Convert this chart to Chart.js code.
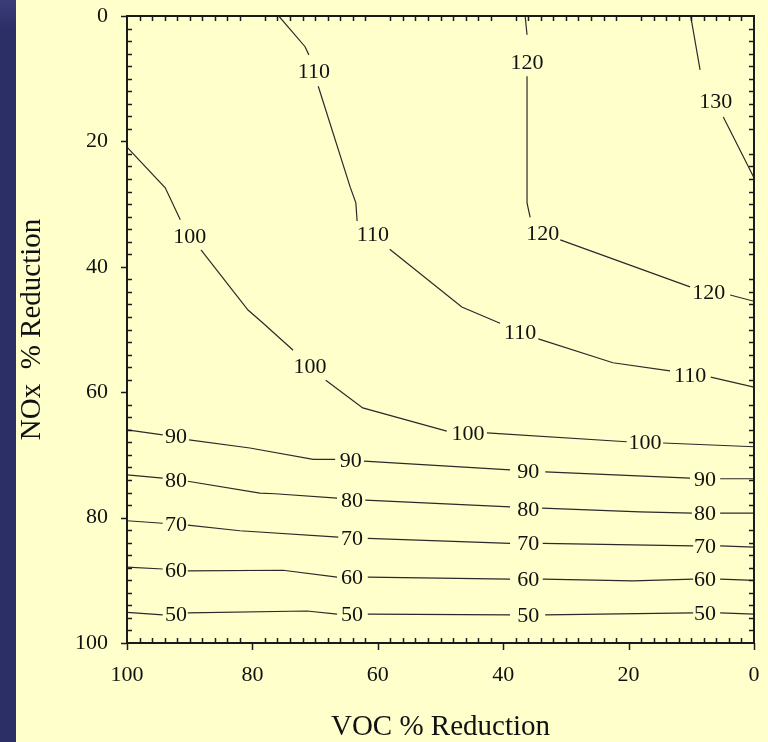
<!DOCTYPE html>
<html>
<head>
<meta charset="utf-8">
<script src="https://cdn.jsdelivr.net/npm/chart.js@4.4.1/dist/chart.umd.min.js"></script>
<style>
  html, body { margin: 0; padding: 0; background: #ffffcc; }
  #strip { position: absolute; left: 0; top: 0; width: 16px; height: 742px;
           background: linear-gradient(#3a3d78, #2c2f66 4%, #2c2f66); }
  #wrap { position: absolute; left: 0; top: 0; width: 768px; height: 742px; }
</style>
</head>
<body>
<div id="strip"></div>
<div id="wrap"><canvas id="chart" width="768" height="742"></canvas></div>
<script>
// contour lines, [VOC % reduction, NOx % reduction]; null = break for a label
const line130 = [[10.1, 0], [8.6, 8.6], null, [4.9, 16.1], [0, 25.8]];
const line120 = [[36.5, 0], [36.2, 3.0], null, [36.2, 9.6], [36.2, 29.8], [35.7, 32.1], null,
  [30.9, 35.7], [10.2, 43.2], null, [3.8, 44.5], [0, 45.5]];
const line110 = [[75.8, 0], [71.6, 4.9], [71.0, 6.2], null, [69.5, 11.2], [64.4, 27.3], [63.5, 29.8], [63.3, 32.7], null,
  [58.1, 37.2], [46.6, 46.4], [40.5, 49.0], null, [34.4, 51.5], [22.5, 55.3], [13.4, 56.6], null, [6.9, 57.6], [0, 59.2]];
const line100 = [[100, 20.9], [93.9, 27.4], [91.5, 32.5], null, [88.2, 37.3], [80.7, 46.9], [78.5, 48.8], [73.5, 53.3], null,
  [68.3, 58.1], [62.4, 62.5], [49.0, 66.2], null, [42.6, 66.5], [20.3, 67.9], null, [14.5, 68.1], [0, 68.7]];
const line90 = [[100, 66.0], [94.3, 66.8], null, [90.1, 67.6], [80.4, 68.9], [70.3, 70.7], [66.8, 70.7], null,
  [62.2, 71.0], [38.9, 72.4], null, [33.3, 72.7], [10.2, 73.7], null, [5.4, 73.8], [0, 73.8]];
const line80 = [[100, 73.2], [94.3, 73.7], null, [90.3, 74.2], [78.8, 76.1], [76.4, 76.2], [66.5, 76.9], null,
  [62.0, 77.2], [38.9, 78.3], null, [33.8, 78.5], [18.2, 79.1], [9.9, 79.3], null, [5.4, 79.3], [0, 79.3]];
const line70 = [[100, 80.5], [94.3, 80.9], null, [90.3, 81.2], [82.0, 82.1], [66.3, 83.1], null,
  [61.6, 83.3], [38.9, 84.1], null, [33.7, 84.1], [9.7, 84.5], null, [5.4, 84.5], [0, 84.7]];
const line60 = [[100, 87.9], [94.3, 88.2], null, [90.3, 88.5], [75.1, 88.4], [66.5, 89.5], null,
  [61.6, 89.5], [38.9, 89.8], null, [33.7, 89.8], [19.3, 90.1], [9.7, 89.8], null, [5.4, 89.8], [0, 90.0]];
const line50 = [[100, 95.1], [94.3, 95.5], null, [90.3, 95.2], [71.3, 94.9], [66.5, 95.4], null,
  [61.6, 95.4], [38.9, 95.5], null, [33.3, 95.5], [9.7, 95.2], null, [5.4, 95.2], [0, 95.4]];

// where each level's number sits
const label130 = [[6.1, 13.6]];
const label120 = [[36.2, 7.3], [33.7, 34.6], [7.2, 44.0]];
const label110 = [[70.2, 8.8], [60.8, 34.8], [37.3, 50.4], [10.2, 57.3]];
const label100 = [[90.0, 35.1], [70.8, 55.8], [45.6, 66.5], [17.4, 67.9]];
const label90 = [[92.2, 67.1], [64.3, 70.8], [36.0, 72.6], [7.8, 73.8]];
const label80 = [[92.2, 74.0], [64.1, 77.2], [36.0, 78.6], [7.8, 79.3]];
const label70 = [[92.2, 81.0], [64.1, 83.3], [36.0, 84.1], [7.8, 84.5]];
const label60 = [[92.2, 88.4], [64.1, 89.5], [36.0, 89.8], [7.8, 89.8]];
const label50 = [[92.2, 95.4], [64.1, 95.4], [36.0, 95.5], [7.8, 95.2]];

const levels = [130, 120, 110, 100, 90, 80, 70, 60, 50];
const lines = [line130, line120, line110, line100, line90, line80, line70, line60, line50];
const labels = [label130, label120, label110, label100, label90, label80, label70, label60, label50];

const serif = '"Liberation Serif", "DejaVu Serif", serif';

const toPoints = arr => arr.map(p => p ? { x: p[0], y: p[1] } : { x: null, y: null });

// frame, minor ticks inside, major ticks outside on left/bottom
const framePlugin = {
  id: 'frame',
  afterDraw(chart) {
    const { ctx, chartArea: a, scales: { x, y } } = chart;
    ctx.save();
    ctx.strokeStyle = '#1a1a1a';
    ctx.lineWidth = 2;
    ctx.strokeRect(a.left, a.top, a.right - a.left, a.bottom - a.top);
    ctx.lineWidth = 1.5;
    ctx.beginPath();
    for (let v = 0; v <= 100; v += 2) {
      const px = Math.round(x.getPixelForValue(v)) + 0.5;
      const py = Math.round(y.getPixelForValue(v)) + 0.5;
      if (v % 20 === 0) {
        ctx.moveTo(px, a.bottom); ctx.lineTo(px, a.bottom + 7);
        ctx.moveTo(a.left, py); ctx.lineTo(a.left - 6, py);
      } else {
        ctx.moveTo(px, a.bottom); ctx.lineTo(px, a.bottom - 5);
        ctx.moveTo(px, a.top); ctx.lineTo(px, a.top + 5);
        ctx.moveTo(a.left, py); ctx.lineTo(a.left + 5, py);
        ctx.moveTo(a.right, py); ctx.lineTo(a.right - 5, py);
      }
    }
    ctx.stroke();
    ctx.restore();
  }
};

// contour level numbers
const labelPlugin = {
  id: 'contourLabels',
  afterDatasetsDraw(chart) {
    const { ctx, scales: { x, y } } = chart;
    ctx.save();
    ctx.font = '22px ' + serif;
    ctx.fillStyle = '#111';
    ctx.textAlign = 'center';
    ctx.textBaseline = 'middle';
    labels.forEach((list, i) => {
      list.forEach(p => {
        ctx.fillText(String(levels[i]), x.getPixelForValue(p[0]), y.getPixelForValue(p[1]) + 1);
      });
    });
    ctx.restore();
  }
};

new Chart(document.getElementById('chart'), {
  type: 'scatter',
  data: {
    datasets: lines.map((l, i) => ({
      label: String(levels[i]),
      data: toPoints(l),
      showLine: true,
      spanGaps: false,
      borderColor: '#2a2a2a',
      borderWidth: 1.2,
      pointRadius: 0,
      tension: 0
    }))
  },
  options: {
    responsive: false,
    animation: false,
    events: [],
    layout: { padding: { top: 16, right: 14, left: 0, bottom: 0 } },
    plugins: { legend: { display: false }, tooltip: { enabled: false } },
    scales: {
      x: {
        type: 'linear', reverse: true, min: 0, max: 100,
        afterFit: s => { s.height = 99; s.paddingLeft = 0; s.paddingRight = 0; },
        grid: { display: false },
        border: { display: false },
        ticks: { stepSize: 20, color: '#111', padding: 11, font: { family: serif, size: 22 } },
        title: { display: true, text: 'VOC % Reduction', color: '#111',
                 font: { family: serif, size: 29, lineHeight: 1 }, padding: { top: 0, bottom: 0 } }
      },
      y: {
        type: 'linear', reverse: true, min: 0, max: 100,
        afterFit: s => { s.width = 127; s.paddingTop = 0; s.paddingBottom = 0; },
        grid: { display: false },
        border: { display: false },
        ticks: { stepSize: 20, color: '#111', padding: 11, font: { family: serif, size: 22 } },
        title: { display: true, text: 'NOx  % Reduction', color: '#111',
                 font: { family: serif, size: 29, lineHeight: 1 }, padding: { top: 18, bottom: 0 } }
      }
    }
  },
  plugins: [framePlugin, labelPlugin]
});
</script>
</body>
</html>
